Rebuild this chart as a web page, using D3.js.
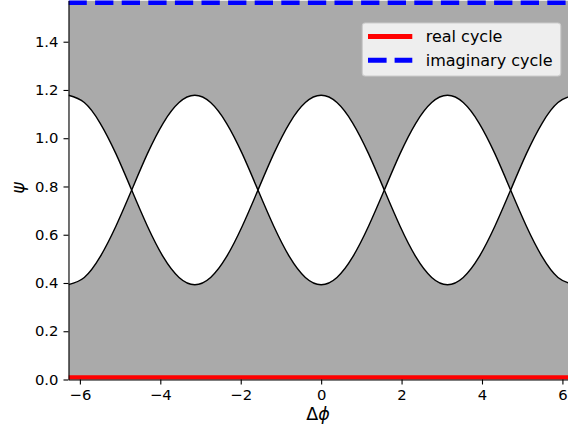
<!DOCTYPE html>
<html>
<head>
<meta charset="utf-8">
<script src="https://cdn.jsdelivr.net/npm/d3@7"></script>
<style>
  body { margin: 0; background: #fff; }
  svg { display: block; font-family: "DejaVu Sans", sans-serif; }
</style>
</head>
<body>
<svg width="568" height="434"></svg>
<script>
// phase difference samples (x) and the two boundary curves (y)
let phase = [-6.283, -5.890, -5.498, -5.105, -4.712, -4.320, -3.927, -3.534, -3.142,
             -2.749, -2.356, -1.963, -1.571, -1.178, -0.785, -0.393, 0,
             0.393, 0.785, 1.178, 1.571, 1.963, 2.356, 2.749, 3.142,
             3.534, 3.927, 4.320, 4.712, 5.105, 5.498, 5.890, 6.283];
let curveA = [1.178, 1.148, 1.063, 0.936, 0.785, 0.635, 0.508, 0.423, 0.393,
              0.423, 0.508, 0.635, 0.785, 0.936, 1.063, 1.148, 1.178,
              1.148, 1.063, 0.936, 0.785, 0.635, 0.508, 0.423, 0.393,
              0.423, 0.508, 0.635, 0.785, 0.936, 1.063, 1.148, 1.178];
let curveB = [0.393, 0.423, 0.508, 0.635, 0.785, 0.936, 1.063, 1.148, 1.178,
              1.148, 1.063, 0.936, 0.785, 0.635, 0.508, 0.423, 0.393,
              0.423, 0.508, 0.635, 0.785, 0.936, 1.063, 1.148, 1.178,
              1.148, 1.063, 0.936, 0.785, 0.635, 0.508, 0.423, 0.393];
let realCycle = 0;            // psi of the real cycle
let imagCycle = 1.5708;       // psi of the imaginary cycle
let xTicks = [-6, -4, -2, 0, 2, 4, 6];
let yTicks = [0, 0.2, 0.4, 0.6, 0.8, 1.0, 1.2, 1.4];
let legendItems = [
  {label: "real cycle", color: "red", dash: null},
  {label: "imaginary cycle", color: "blue", dash: "18.6,8"}
];

let svg = d3.select("svg"),
    pLeft = 68.5, pRight = 573.8, pTop = 0.5, pBottom = 379.5;

let x = d3.scaleLinear().domain([-2 * Math.PI, 2 * Math.PI]).range([pLeft, pRight]);
let y = d3.scaleLinear().domain([0, Math.PI / 2]).range([pBottom, pTop]);

svg.append("defs").append("clipPath").attr("id", "plot")
  .append("rect")
    .attr("x", pLeft).attr("y", pTop)
    .attr("width", pRight - pLeft).attr("height", pBottom - pTop);

let g = svg.append("g").attr("clip-path", "url(#plot)");

g.append("rect")
    .attr("x", pLeft).attr("y", pTop)
    .attr("width", pRight - pLeft).attr("height", pBottom - pTop)
    .attr("fill", "#aaaaaa");

let pts = phase.map(function(p, i) { return {p: p, a: curveA[i], b: curveB[i]}; });

g.append("path")
    .datum(pts)
    .attr("fill", "#fff")
    .attr("d", d3.area()
      .curve(d3.curveNatural)
      .x(function(d) { return x(d.p); })
      .y0(function(d) { return y(d.b); })
      .y1(function(d) { return y(d.a); }));

["a", "b"].forEach(function(k) {
  g.append("path")
      .datum(pts)
      .attr("fill", "none")
      .attr("stroke", "#000")
      .attr("stroke-width", 1.4)
      .attr("d", d3.line()
        .curve(d3.curveNatural)
        .x(function(d) { return x(d.p); })
        .y(function(d) { return y(d[k]); }));
});

g.append("line")
    .attr("x1", x(-2 * Math.PI)).attr("x2", x(2 * Math.PI))
    .attr("y1", y(realCycle)).attr("y2", y(realCycle))
    .attr("stroke", "red").attr("stroke-width", 8.5);

g.append("line")
    .attr("x1", x(-2 * Math.PI)).attr("x2", x(2 * Math.PI))
    .attr("y1", y(imagCycle)).attr("y2", y(imagCycle))
    .attr("stroke", "blue").attr("stroke-width", 9)
    .attr("stroke-dasharray", "18.3,8.3");

// axes
let fmt = function(d) { return d3.format(".1f")(d); };

let xAxis = svg.append("g")
    .attr("transform", "translate(0," + pBottom + ")")
    .call(d3.axisBottom(x).tickValues(xTicks).tickSize(5).tickPadding(4.6).tickSizeOuter(0)
      .tickFormat(function(d) { return d < 0 ? "\u2212" + Math.abs(d) : d; }));

let yAxis = svg.append("g")
    .attr("transform", "translate(" + pLeft + ",0)")
    .call(d3.axisLeft(y).tickValues(yTicks).tickSize(5).tickPadding(5).tickSizeOuter(0)
      .tickFormat(fmt));

[xAxis, yAxis].forEach(function(a) {
  a.attr("font-family", "DejaVu Sans").attr("font-size", 14.8);
  a.selectAll("text").attr("fill", "#000");
  a.selectAll("line").attr("stroke", "#000").attr("stroke-width", 1.1);
  a.select(".domain").attr("stroke", "#000").attr("stroke-width", 1.1);
});

svg.append("text")
    .attr("x", 318).attr("y", 420)
    .attr("text-anchor", "middle")
    .attr("font-size", 17.5)
    .html('Δ<tspan font-style="italic">ϕ</tspan>');

svg.append("text")
    .attr("transform", "translate(24,188) rotate(-90)")
    .attr("text-anchor", "middle")
    .attr("font-size", 17.5)
    .attr("font-style", "italic")
    .text("ψ");

// legend
let legend = svg.append("g");

legend.append("rect")
    .attr("x", 362.3).attr("y", 23)
    .attr("width", 198.4).attr("height", 53)
    .attr("rx", 3)
    .attr("fill", "#eeeeee")
    .attr("stroke", "#cccccc")
    .attr("stroke-width", 1.1);

let item = legend.selectAll(".item")
  .data(legendItems)
  .enter().append("g")
    .attr("transform", function(d, i) { return "translate(0," + (36.5 + i * 23.7) + ")"; });

item.append("line")
    .attr("x1", 368).attr("x2", 412.3)
    .attr("stroke", function(d) { return d.color; })
    .attr("stroke-width", 5)
    .attr("stroke-dasharray", function(d) { return d.dash; });

item.append("text")
    .attr("x", 425.7).attr("y", 5.9)
    .attr("font-size", 16)
    .attr("fill", "#000")
    .text(function(d) { return d.label; });
</script>
</body>
</html>
